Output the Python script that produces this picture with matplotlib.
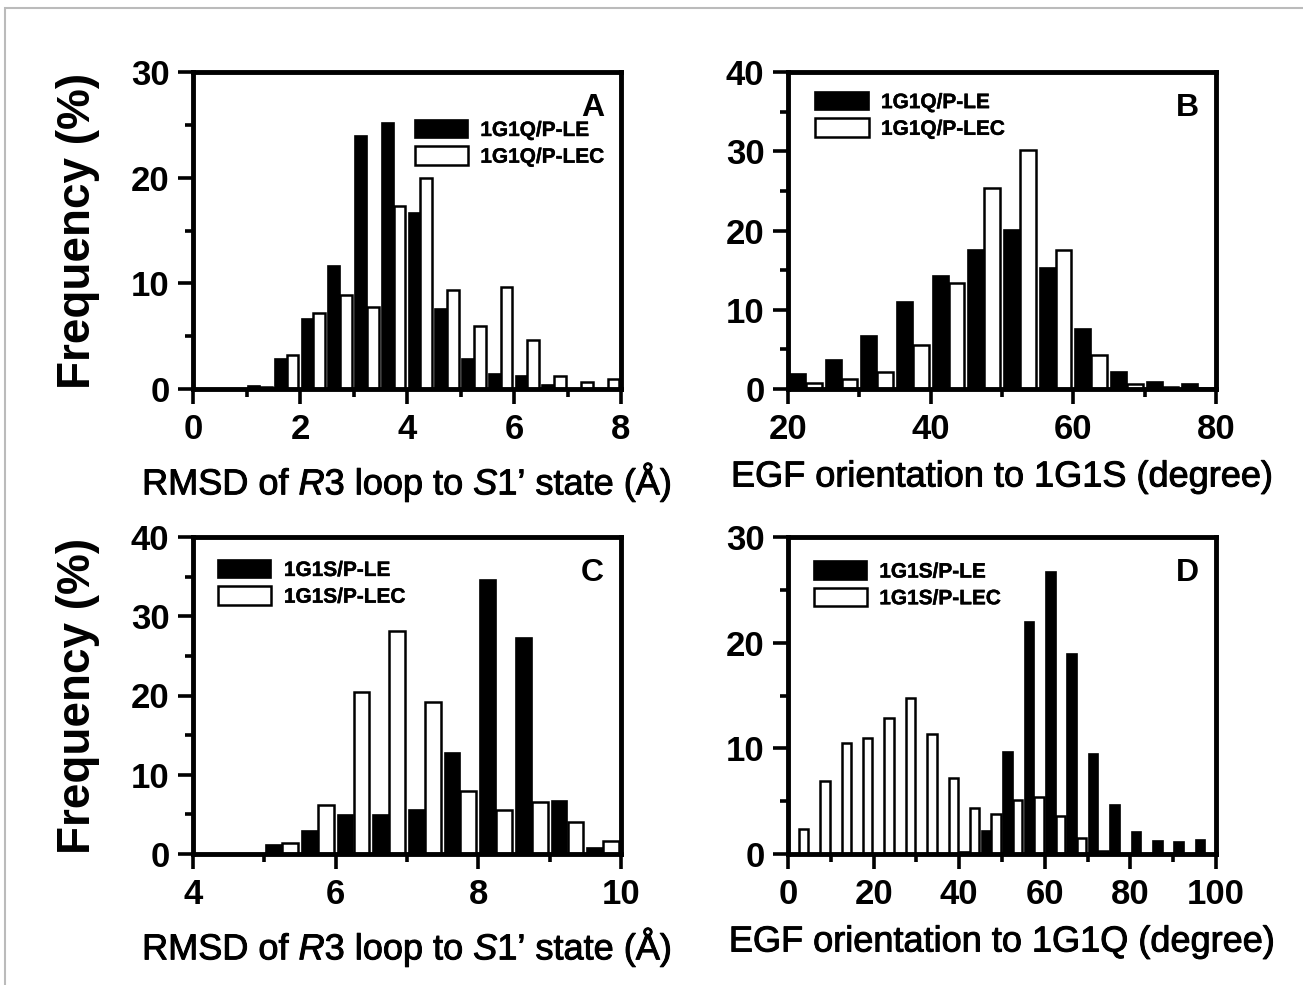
import numpy as np
import matplotlib
matplotlib.use('Agg')
import matplotlib.pyplot as plt
import matplotlib.patheffects as pe
from matplotlib.patches import Rectangle
from matplotlib.ticker import MultipleLocator

plt.rcParams['font.family'] = ['Liberation Sans', 'DejaVu Sans']
plt.rcParams['mathtext.fontset'] = 'custom'
plt.rcParams['mathtext.rm'] = 'Liberation Sans'
plt.rcParams['mathtext.it'] = 'Liberation Sans:italic'

# panel A: RMSD to S1' state, 1G1Q runs
a_bins = [1.0, 1.5, 2.0, 2.5, 3.0, 3.5, 4.0, 4.5, 5.0, 5.5, 6.0, 6.5, 7.0, 7.5]
a_le = [0.25, 2.8, 6.6, 11.6, 23.9, 25.2, 16.7, 7.6, 2.8, 1.4, 1.2, 0.4, 0.0, 0.0]
a_lec = [0.2, 3.2, 7.2, 8.9, 7.8, 17.3, 20.0, 9.4, 6.0, 9.7, 4.6, 1.2, 0.7, 0.9]

# panel B: EGF orientation to 1G1S
b_bins = [20, 25, 30, 35, 40, 45, 50, 55, 60, 65, 70, 75]
b_le = [1.9, 3.7, 6.7, 11.0, 14.3, 17.5, 20.1, 15.3, 7.6, 2.1, 0.85, 0.6]
b_lec = [0.75, 1.2, 2.2, 5.6, 13.4, 25.3, 30.1, 17.6, 4.3, 0.6, 0.2, 0.1]

# panel C: RMSD to S1' state, 1G1S runs
c_bins = [5.0, 5.5, 6.0, 6.5, 7.0, 7.5, 8.0, 8.5, 9.0, 9.5]
c_le = [1.1, 2.9, 4.9, 4.9, 5.6, 12.8, 34.6, 27.2, 6.7, 0.75]
c_lec = [1.4, 6.2, 20.4, 28.1, 19.2, 8.0, 5.6, 6.5, 4.0, 1.6]

# panel D: EGF orientation to 1G1Q
d_bins = [0, 5, 10, 15, 20, 25, 30, 35, 40, 45, 50, 55, 60, 65, 70, 75, 80, 85, 90, 95]
d_le = [0, 0, 0, 0, 0, 0, 0, 0, 0.2, 2.2, 9.7, 22.0, 26.7, 18.9, 9.5, 4.6, 2.1, 1.2, 1.1, 1.35]
d_lec = [2.4, 6.9, 10.5, 11.0, 12.9, 14.8, 11.4, 7.2, 4.4, 3.8, 5.1, 5.35, 3.6, 1.5, 0.3, 0, 0, 0, 0, 0]

xlab_rmsd = 'RMSD of $\\it{R}$3 loop to $\\it{S}$1\u2019 state (\u00c5)'

panels = [
    # letter, bins, binwidth, le, lec, names, xlim, ylim, xmaj, xmin, xlabel, legend pos
    ('A', a_bins, 0.5, a_le, a_lec, ('1G1Q/P-LE', '1G1Q/P-LEC'), (0, 8), (0, 30), 2, 1,
     xlab_rmsd, (0.518, 0.85)),
    ('B', b_bins, 5, b_le, b_lec, ('1G1Q/P-LE', '1G1Q/P-LEC'), (20, 80), (0, 40), 20, 10,
     'EGF orientation to 1G1S (degree)', (0.064, 0.938)),
    ('C', c_bins, 0.5, c_le, c_lec, ('1G1S/P-LE', '1G1S/P-LEC'), (4, 10), (0, 40), 2, 1,
     xlab_rmsd, (0.059, 0.929)),
    ('D', d_bins, 5, d_le, d_lec, ('1G1S/P-LE', '1G1S/P-LEC'), (0, 100), (0, 30), 20, 10,
     'EGF orientation to 1G1Q (degree)', (0.06, 0.924)),
]

W, H = 1303, 985
fig = plt.figure(figsize=(W / 100, H / 100), dpi=100)

# thin grey frame of the original figure
fig.patches.append(Rectangle((5 / W, -0.02), 1.05, 1 - 8 / H + 0.02, transform=fig.transFigure,
                             fill=False, edgecolor='#bbbbbb', linewidth=1.5))

thick = [pe.withStroke(linewidth=0.7, foreground='black')]

boxes = [(193, 72), (788, 72), (193, 537), (788, 537)]
for (letter, bins, bw, le, lec, names, xlim, ylim, xmaj, xmin, xlabel, legpos), (px, py) in zip(panels, boxes):
    ax = fig.add_axes([px / W, 1 - (py + 317) / H, 428 / W, 317 / H])
    bins = np.array(bins, dtype=float)
    ax.bar(bins + 0.28 * bw, le, width=0.44 * bw, color='black', edgecolor='black',
           linewidth=1.2, label=names[0], zorder=2)
    ax.bar(bins + 0.72 * bw, lec, width=0.44 * bw, color='white', edgecolor='black',
           linewidth=1.8, label=names[1], zorder=3)
    ax.set_xlim(*xlim)
    ax.set_ylim(*ylim)
    ax.xaxis.set_major_locator(MultipleLocator(xmaj))
    ax.xaxis.set_minor_locator(MultipleLocator(xmin))
    ax.yaxis.set_major_locator(MultipleLocator(10))
    ax.yaxis.set_minor_locator(MultipleLocator(5))
    for s in ax.spines.values():
        s.set_linewidth(3.5)
        s.set_zorder(5)
    ax.tick_params(which='major', direction='out', length=11, width=2.6, labelsize=25, pad=6)
    ax.tick_params(which='minor', direction='out', length=6, width=2.6)
    ax.tick_params(top=False, right=False, which='both')
    for lab in ax.get_xticklabels() + ax.get_yticklabels():
        lab.set_fontweight('bold')
    xl = ax.set_xlabel(xlabel, fontsize=26, labelpad=10)
    xl.set_path_effects(thick)
    if letter in ('A', 'C'):
        ax.set_ylabel('Frequency (%)', fontsize=33, fontweight='bold', labelpad=22)
    ax.text(0.96, 0.935, letter, transform=ax.transAxes, fontsize=23, fontweight='bold',
            ha='right', va='top')
    leg = ax.legend(loc='upper left', bbox_to_anchor=legpos, frameon=False,
                    prop={'size': 15, 'weight': 'bold'}, handlelength=2.55, handleheight=1.0,
                    handletextpad=0.6, labelspacing=0.3, borderpad=0, borderaxespad=0)
    for t in leg.get_texts():
        t.set_path_effects([pe.withStroke(linewidth=0.3, foreground='black')])

fig.savefig('out.png', dpi=100)
